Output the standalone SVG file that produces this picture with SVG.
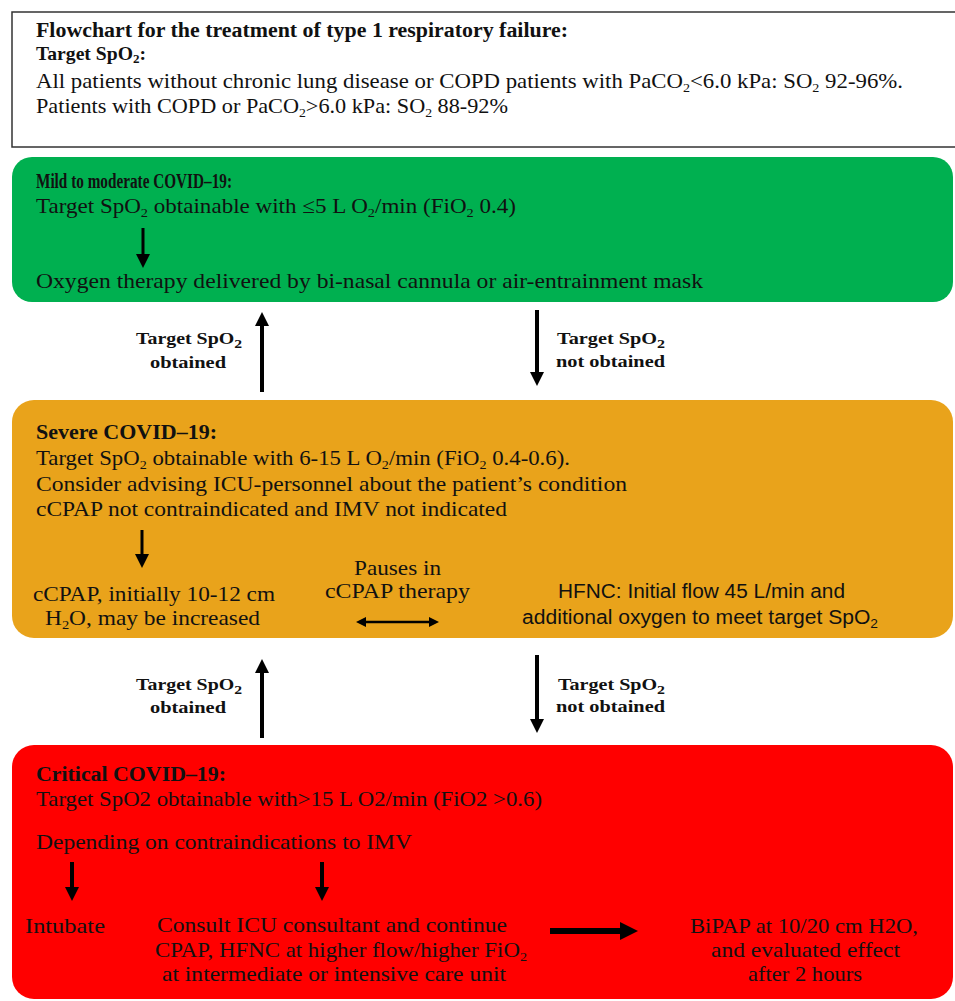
<svg xmlns="http://www.w3.org/2000/svg" width="955" height="1001" viewBox="0 0 955 1001">
<style>
text{font-family:"Liberation Serif","DejaVu Serif",serif;fill:#111;}
.t{font-size:21px;}
.b{font-size:20.5px;font-weight:bold;}
.l{font-size:16.5px;font-weight:bold;}
.s{font-family:"Liberation Sans Narrow","Liberation Sans",Arial,sans-serif;font-size:20px;}
.sub{font-size:13px;}
.conn{stroke:#000;fill:none;}
</style>
<defs>
<marker id="ah" markerUnits="userSpaceOnUse" markerWidth="14" markerHeight="14" refX="2" refY="7" orient="auto"><path d="M0,0 L14,7 L0,14 z" fill="#000"/></marker>
<marker id="ah2" markerUnits="userSpaceOnUse" markerWidth="10" markerHeight="10" refX="2" refY="5" orient="auto-start-reverse"><path d="M0,0 L10,5 L0,10 z" fill="#000"/></marker>
<marker id="ah3" markerUnits="userSpaceOnUse" markerWidth="18" markerHeight="18" refX="2" refY="9" orient="auto"><path d="M0,0 L18,9 L0,18 z" fill="#000"/></marker>
</defs>
<rect width="955" height="1001" fill="#fff"/>

<g id="header">
<rect x="12" y="12" width="960" height="135" fill="#fff" stroke="#333" stroke-width="1.5"/>
<text class="b" x="36" y="37" textLength="532" lengthAdjust="spacingAndGlyphs">Flowchart for the treatment of type 1 respiratory failure:</text>
<text class="b" x="36" y="60" textLength="110" lengthAdjust="spacingAndGlyphs" style="font-size:19.5px">Target SpO<tspan class="sub" dy="3">2</tspan><tspan dy="-3">:</tspan></text>
<text class="t" x="36" y="88" textLength="867" lengthAdjust="spacingAndGlyphs">All patients without chronic lung disease or COPD patients with PaCO<tspan class="sub" dy="4">2</tspan><tspan dy="-4">&lt;6.0 kPa: SO</tspan><tspan class="sub" dy="4">2</tspan><tspan dy="-4"> 92-96%.</tspan></text>
<text class="t" x="36" y="113" textLength="472" lengthAdjust="spacingAndGlyphs">Patients with COPD or PaCO<tspan class="sub" dy="4">2</tspan><tspan dy="-4">&gt;6.0 kPa: SO</tspan><tspan class="sub" dy="4">2</tspan><tspan dy="-4"> 88-92%</tspan></text>
</g>

<g id="mild">
<rect x="12" y="157" width="941" height="145" rx="20" fill="#00b050"/>
<text class="b" x="36" y="188" textLength="196" lengthAdjust="spacingAndGlyphs">Mild to moderate COVID–19:</text>
<text class="t" x="36" y="213" textLength="480" lengthAdjust="spacingAndGlyphs">Target SpO<tspan class="sub" dy="4">2</tspan><tspan dy="-4"> obtainable with ≤5 L O</tspan><tspan class="sub" dy="4">2</tspan><tspan dy="-4">/min (FiO</tspan><tspan class="sub" dy="4">2</tspan><tspan dy="-4"> 0.4)</tspan></text>
<path class="conn" d="M143,228 V256" stroke-width="3" marker-end="url(#ah)"/>
<text class="t" x="36" y="288" textLength="667" lengthAdjust="spacingAndGlyphs">Oxygen therapy delivered by bi-nasal cannula or air-entrainment mask</text>
</g>

<g id="severe">
<rect x="12" y="400" width="941" height="238" rx="22" fill="#e9a31b"/>
<text class="b" x="36" y="439" textLength="181" lengthAdjust="spacingAndGlyphs">Severe COVID–19:</text>
<text class="t" x="36" y="465" textLength="534" lengthAdjust="spacingAndGlyphs">Target SpO<tspan class="sub" dy="4">2</tspan><tspan dy="-4"> obtainable with 6-15 L O</tspan><tspan class="sub" dy="4">2</tspan><tspan dy="-4">/min (FiO</tspan><tspan class="sub" dy="4">2</tspan><tspan dy="-4"> 0.4-0.6).</tspan></text>
<text class="t" x="36" y="491" textLength="591" lengthAdjust="spacingAndGlyphs">Consider advising ICU-personnel about the patient’s condition</text>
<text class="t" x="36" y="516" textLength="471" lengthAdjust="spacingAndGlyphs">cCPAP not contraindicated and IMV not indicated</text>
<path class="conn" d="M142,530 V556" stroke-width="3" marker-end="url(#ah)"/>
<text class="t" x="33" y="601" textLength="242" lengthAdjust="spacingAndGlyphs">cCPAP, initially 10-12 cm</text>
<text class="t" x="45" y="625" textLength="215" lengthAdjust="spacingAndGlyphs">H<tspan class="sub" dy="4">2</tspan><tspan dy="-4">O, may be increased</tspan></text>
<text class="t" x="354" y="575" textLength="87" lengthAdjust="spacingAndGlyphs">Pauses in</text>
<text class="t" x="325" y="598" textLength="145" lengthAdjust="spacingAndGlyphs">cCPAP therapy</text>
<path class="conn" d="M364,622 H431" stroke-width="2.5" marker-start="url(#ah2)" marker-end="url(#ah2)"/>
<text class="s" x="558" y="598" textLength="287" lengthAdjust="spacingAndGlyphs">HFNC: Initial flow 45 L/min and</text>
<text class="s" x="522" y="624" textLength="356" lengthAdjust="spacingAndGlyphs">additional oxygen to meet target SpO<tspan class="sub" dy="4">2</tspan></text>
</g>

<g id="critical">
<rect x="12" y="745" width="941" height="254" rx="22" fill="#ff0000"/>
<text class="b" x="36" y="781" textLength="190" lengthAdjust="spacingAndGlyphs">Critical COVID–19:</text>
<text class="t" x="36" y="806" textLength="506" lengthAdjust="spacingAndGlyphs">Target SpO2 obtainable with&gt;15 L O2/min (FiO2 &gt;0.6)</text>
<text class="t" x="36" y="849" textLength="376" lengthAdjust="spacingAndGlyphs">Depending on contraindications to IMV</text>
<path class="conn" d="M72,862 V889" stroke-width="4" marker-end="url(#ah)"/>
<path class="conn" d="M322,862 V889" stroke-width="4" marker-end="url(#ah)"/>
<text class="t" x="25" y="933" textLength="80" lengthAdjust="spacingAndGlyphs">Intubate</text>
<text class="t" x="157" y="932" textLength="350" lengthAdjust="spacingAndGlyphs">Consult ICU consultant and continue</text>
<text class="t" x="155" y="957" textLength="372" lengthAdjust="spacingAndGlyphs">CPAP, HFNC at higher flow/higher FiO<tspan class="sub" dy="4">2</tspan></text>
<text class="t" x="162" y="981" textLength="344" lengthAdjust="spacingAndGlyphs">at intermediate or intensive care unit</text>
<path class="conn" d="M550,931 H622" stroke-width="6" marker-end="url(#ah3)"/>
<text class="t" x="690" y="933" textLength="228" lengthAdjust="spacingAndGlyphs">BiPAP at 10/20 cm H2O,</text>
<text class="t" x="711" y="957" textLength="189" lengthAdjust="spacingAndGlyphs">and evaluated  effect</text>
<text class="t" x="748" y="981" textLength="114" lengthAdjust="spacingAndGlyphs">after 2 hours</text>
</g>

<g id="connectors">
<path class="conn" d="M262,392 V324" stroke-width="4" marker-end="url(#ah)"/>
<path class="conn" d="M537,310 V374" stroke-width="4" marker-end="url(#ah)"/>
<path class="conn" d="M262,738 V671" stroke-width="4" marker-end="url(#ah)"/>
<path class="conn" d="M537,655 V721" stroke-width="4" marker-end="url(#ah)"/>
<text class="l" x="136" y="344" textLength="106" lengthAdjust="spacingAndGlyphs">Target SpO<tspan class="sub" dy="4">2</tspan></text>
<text class="l" x="150" y="368" textLength="76" lengthAdjust="spacingAndGlyphs">obtained</text>
<text class="l" x="557" y="344" textLength="108" lengthAdjust="spacingAndGlyphs">Target SpO<tspan class="sub" dy="4">2</tspan></text>
<text class="l" x="556" y="367" textLength="109" lengthAdjust="spacingAndGlyphs">not obtained</text>
<text class="l" x="136" y="690" textLength="106" lengthAdjust="spacingAndGlyphs">Target SpO<tspan class="sub" dy="4">2</tspan></text>
<text class="l" x="150" y="713" textLength="76" lengthAdjust="spacingAndGlyphs">obtained</text>
<text class="l" x="558" y="690" textLength="107" lengthAdjust="spacingAndGlyphs">Target SpO<tspan class="sub" dy="4">2</tspan></text>
<text class="l" x="556" y="712" textLength="109" lengthAdjust="spacingAndGlyphs">not obtained</text>
</g>
</svg>
